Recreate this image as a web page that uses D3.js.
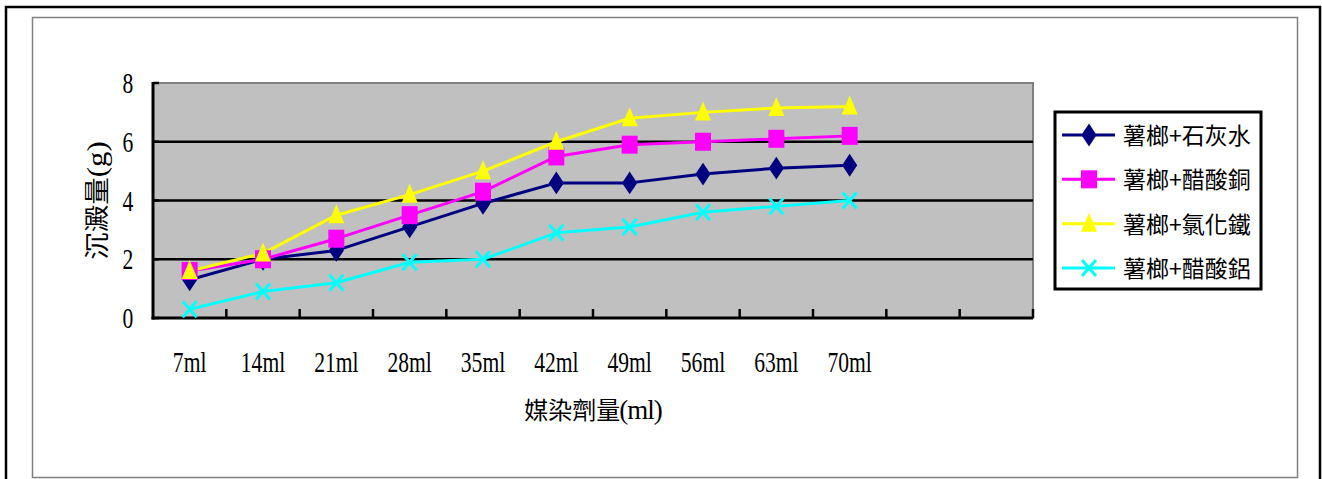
<!DOCTYPE html>
<html><head><meta charset="utf-8">
<script src="https://cdn.jsdelivr.net/npm/d3@7"></script>
<style>
html,body{margin:0;padding:0;background:#fff;}
svg{display:block;}
</style>
</head><body>
<svg id="chart" width="1322" height="479"></svg>
<script>
const categories = ["7ml","14ml","21ml","28ml","35ml","42ml","49ml","56ml","63ml","70ml"];
const slotCount = 12;
const yTicks = [0,2,4,6,8];
const seriesNames = ["薯榔+石灰水","薯榔+醋酸銅","薯榔+氯化鐵","薯榔+醋酸鋁"];
const limeWater = [1.3,2.0,2.3,3.1,3.9,4.6,4.6,4.9,5.1,5.2];
const copperAcetate = [1.6,2.0,2.7,3.5,4.3,5.5,5.9,6.0,6.1,6.2];
const ferricChloride = [1.6,2.2,3.5,4.2,5.0,6.0,6.8,7.0,7.15,7.2];
const aluminumAcetate = [0.3,0.9,1.2,1.9,2.0,2.9,3.1,3.6,3.8,4.0];
const seriesColors = ["#000080","#ff00ff","#ffff00","#00ffff"];
const seriesShapes = ["diamond","square","triangle","cross"];

const series = [limeWater, copperAcetate, ferricChloride, aluminumAcetate].map((vals,i)=>({
  name: seriesNames[i], values: vals, color: seriesColors[i], shape: seriesShapes[i]
}));

const svg = d3.select("#chart");
const latin = "'Liberation Serif','Times New Roman',serif";
const cjk = "'Noto Sans CJK TC','Noto Sans CJK SC',sans-serif";

// frames
svg.append("rect").attr("x",6).attr("y",7).attr("width",1314).attr("height",480)
  .attr("fill","none").attr("stroke","#000").attr("stroke-width",2.5);
svg.append("rect").attr("x",32.5).attr("y",17.5).attr("width",1265).attr("height",460)
  .attr("fill","#fff").attr("stroke","#808080").attr("stroke-width",1.5);

const plot = {left:153, right:1033, top:83, bottom:318};
const x = d3.scaleBand().domain(d3.range(slotCount)).range([plot.left, plot.right]).paddingInner(0).paddingOuter(0);
const y = d3.scaleLinear().domain([0,8]).range([plot.bottom, plot.top]);

// plot area
svg.append("rect").attr("x",plot.left).attr("y",plot.top)
  .attr("width",plot.right-plot.left).attr("height",plot.bottom-plot.top)
  .attr("fill","#c0c0c0").attr("stroke","#808080").attr("stroke-width",2);

// gridlines
svg.append("g").selectAll("line").data(yTicks.filter(d=>d>0 && d<8)).join("line")
  .attr("x1",plot.left).attr("x2",plot.right)
  .attr("y1",d=>y(d)).attr("y2",d=>y(d))
  .attr("stroke","#000").attr("stroke-width",2.5);

// axes
const xAxisG = svg.append("g").attr("transform",`translate(0,${plot.bottom})`)
  .call(d3.axisBottom(x).tickSize(0).tickFormat(""));
xAxisG.select(".domain").remove();
svg.append("line").attr("x1",plot.left-1.5).attr("x2",plot.right).attr("y1",plot.bottom).attr("y2",plot.bottom)
  .attr("stroke","#000").attr("stroke-width",3);
svg.append("line").attr("x1",plot.left).attr("x2",plot.left).attr("y1",plot.top-1).attr("y2",plot.bottom+1.5)
  .attr("stroke","#000").attr("stroke-width",3);
// x ticks (between categories, pointing up)
svg.append("g").selectAll("line").data(d3.range(1,slotCount+1)).join("line")
  .attr("x1",d=>x.step()*d+plot.left).attr("x2",d=>x.step()*d+plot.left)
  .attr("y1",plot.bottom).attr("y2",plot.bottom-9)
  .attr("stroke","#000").attr("stroke-width",2.5);
// y tick small mark
svg.append("g").selectAll("line").data(yTicks).join("line")
  .attr("x1",plot.left).attr("x2",plot.left+6)
  .attr("y1",d=>y(d)).attr("y2",d=>y(d))
  .attr("stroke","#000").attr("stroke-width",2.5);

// y tick labels
svg.append("g").selectAll("text").data(yTicks).join("text")
  .attr("transform",d=>`translate(128,${y(d)+10}) scale(0.72,1)`)
  .attr("text-anchor","middle").attr("font-family",latin).attr("font-size",30)
  .attr("fill","#000").text(d=>d);

// x tick labels
svg.append("g").selectAll("text").data(categories).join("text")
  .attr("transform",(d,i)=>`translate(${x(i)+x.bandwidth()/2},372) scale(0.72,1)`)
  .attr("text-anchor","middle").attr("font-family",latin).attr("font-size",30)
  .attr("fill","#000").text(d=>d);

// axis titles
const xt = svg.append("text").attr("x",(plot.left+plot.right)/2).attr("y",419)
  .attr("text-anchor","middle").attr("fill","#000");
xt.append("tspan").attr("font-family",cjk).attr("font-size",24).text("媒染劑量");
xt.append("tspan").attr("font-family",latin).attr("font-size",27).attr("dx",-1)
  .attr("style","letter-spacing:-1px").text("(ml)");

const yt = svg.append("text").attr("transform",`translate(106,${(plot.top+plot.bottom)/2}) rotate(-90) scale(1.1,1)`)
  .attr("text-anchor","middle").attr("fill","#000");
yt.append("tspan").attr("font-family",cjk).attr("font-size",25).text("沉澱量");
yt.append("tspan").attr("font-family",latin).attr("font-size",28).text("(g)");

// markers
function marker(g, shape, color){
  if(shape==="diamond"){
    g.append("path").attr("d",d3.symbol(d3.symbolDiamond,150)()).attr("transform","scale(1.15,1)").attr("fill",color);
  } else if(shape==="square"){
    g.append("rect").attr("x",-8).attr("y",-9).attr("width",16).attr("height",18).attr("fill",color);
  } else if(shape==="triangle"){
    g.append("path").attr("d","M0,-11 L8,8 L-8,8 Z").attr("fill",color);
  } else {
    g.append("path").attr("d","M-7,-8 L7,8 M-7,8 L7,-8").attr("stroke",color).attr("stroke-width",3).attr("fill","none");
  }
}

const line = d3.line().x((d,i)=>x(i)+x.bandwidth()/2).y(d=>y(d));
const sg = svg.append("g");
series.forEach(s=>{
  sg.append("path").datum(s.values).attr("d",line)
    .attr("fill","none").attr("stroke",s.color).attr("stroke-width",3).attr("stroke-linejoin","round");
});
series.forEach(s=>{
  s.values.forEach((v,i)=>{
    const g = sg.append("g").attr("transform",`translate(${x(i)+x.bandwidth()/2},${y(v)})`);
    marker(g, s.shape, s.color);
  });
});

// legend
const leg = svg.append("g");
leg.append("rect").attr("x",1055).attr("y",112).attr("width",206).attr("height",177)
  .attr("fill","#fff").attr("stroke","#000").attr("stroke-width",3);
const rowY = d3.scalePoint().domain(d3.range(series.length)).range([135,268]);
series.forEach((s,i)=>{
  const cy = rowY(i);
  leg.append("line").attr("x1",1062).attr("x2",1115).attr("y1",cy).attr("y2",cy)
    .attr("stroke",s.color).attr("stroke-width",3);
  const g = leg.append("g").attr("transform",`translate(1089,${cy})`);
  marker(g, s.shape, s.color);
  leg.append("text").attr("x",1123).attr("y",cy+9).attr("font-family",cjk).attr("font-size",23)
    .attr("fill","#000").text(s.name);
});
</script>
</body></html>
